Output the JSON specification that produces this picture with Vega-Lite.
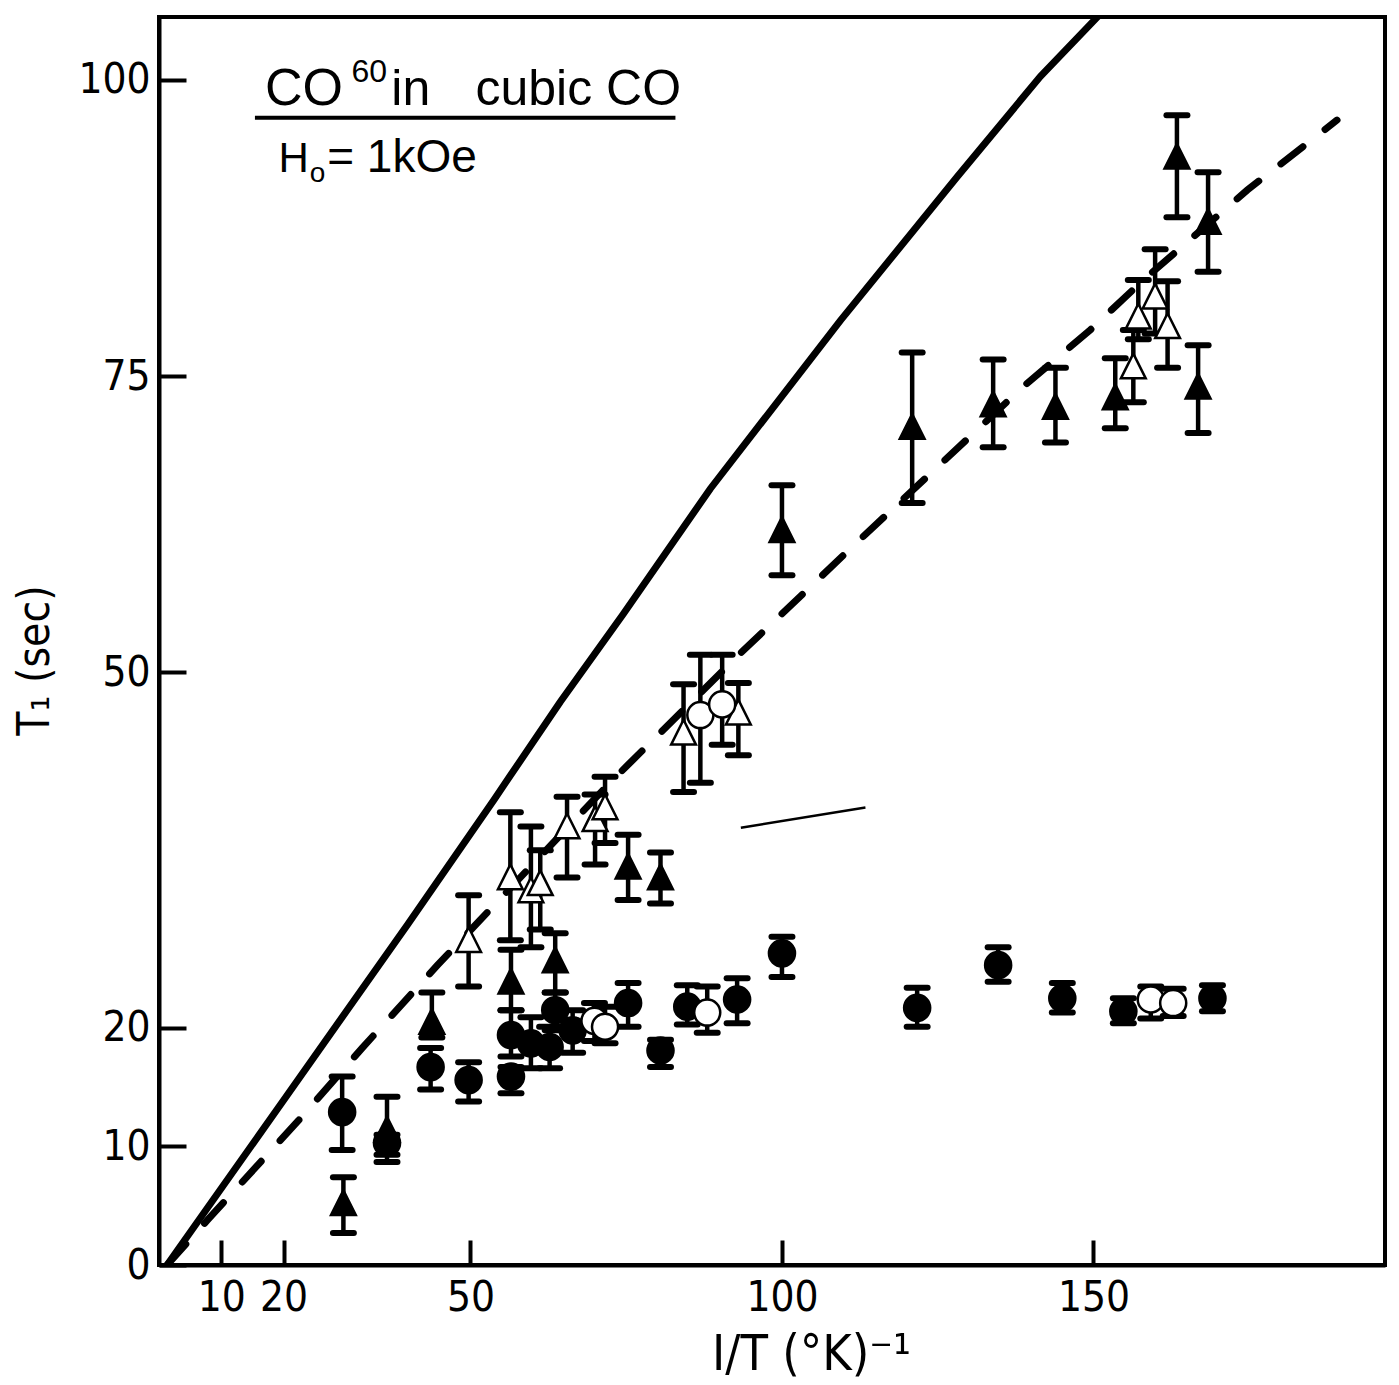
{
  "$schema": "https://vega.github.io/schema/vega-lite/v6.json",
  "width": 1226,
  "height": 1248,
  "autosize": {"type": "none"},
  "padding": {"left": 159, "top": 17, "right": 14, "bottom": 120},
  "background": "white",
  "config": {
    "view": {"stroke": "black", "strokeWidth": 4},
    "axis": {
      "grid": false,
      "domainColor": "black",
      "domainWidth": 4,
      "tickColor": "black",
      "tickWidth": 4,
      "labelColor": "black",
      "titleColor": "black",
      "labelFont": "DejaVu Sans Condensed, Roboto Condensed, Roboto, sans-serif",
      "titleFont": "DejaVu Sans Condensed, Roboto Condensed, Roboto, sans-serif",
      "labelFontSize": 42,
      "titleFontWeight": "normal"
    }
  },
  "datasets": {
    "points": [
      {"x": 29.6, "t1": 5.2, "lo": 2.7, "hi": 7.4, "kind": "filled triangle"},
      {"x": 36.6, "t1": 11.4, "lo": 8.7, "hi": 14.2, "kind": "filled triangle"},
      {"x": 43.8, "t1": 20.5, "lo": 19.2, "hi": 23.0, "kind": "filled triangle"},
      {"x": 56.5, "t1": 23.9, "lo": 21.5, "hi": 26.6, "kind": "filled triangle"},
      {"x": 63.6, "t1": 25.7, "lo": 23.0, "hi": 28.0, "kind": "filled triangle"},
      {"x": 75.3, "t1": 33.6, "lo": 30.8, "hi": 36.3, "kind": "filled triangle"},
      {"x": 80.5, "t1": 32.7, "lo": 30.5, "hi": 34.8, "kind": "filled triangle"},
      {"x": 100.0, "t1": 62.0, "lo": 58.2, "hi": 65.8, "kind": "filled triangle"},
      {"x": 120.9, "t1": 70.7, "lo": 64.3, "hi": 77.0, "kind": "filled triangle"},
      {"x": 133.9, "t1": 72.6, "lo": 69.0, "hi": 76.4, "kind": "filled triangle"},
      {"x": 143.9, "t1": 72.4, "lo": 69.4, "hi": 75.7, "kind": "filled triangle"},
      {"x": 153.5, "t1": 73.2, "lo": 70.6, "hi": 76.5, "kind": "filled triangle"},
      {"x": 166.8, "t1": 74.1, "lo": 70.2, "hi": 77.6, "kind": "filled triangle"},
      {"x": 163.4, "t1": 93.5, "lo": 88.4, "hi": 97.0, "kind": "filled triangle"},
      {"x": 168.4, "t1": 88.0, "lo": 83.8, "hi": 92.2, "kind": "filled triangle"},
      {"x": 49.7, "t1": 27.4, "lo": 23.5, "hi": 31.2, "kind": "open triangle"},
      {"x": 56.4, "t1": 32.7, "lo": 27.4, "hi": 38.2, "kind": "open triangle"},
      {"x": 59.7, "t1": 31.6, "lo": 26.8, "hi": 37.0, "kind": "open triangle"},
      {"x": 61.2, "t1": 32.2, "lo": 28.3, "hi": 35.0, "kind": "open triangle"},
      {"x": 65.5, "t1": 37.0, "lo": 32.7, "hi": 39.5, "kind": "open triangle"},
      {"x": 70.0, "t1": 37.6, "lo": 33.8, "hi": 39.7, "kind": "open triangle"},
      {"x": 71.6, "t1": 38.6, "lo": 35.6, "hi": 41.2, "kind": "open triangle"},
      {"x": 84.2, "t1": 44.9, "lo": 39.9, "hi": 49.0, "kind": "open triangle"},
      {"x": 93.0, "t1": 46.6, "lo": 43.0, "hi": 49.1, "kind": "open triangle"},
      {"x": 156.4, "t1": 75.8, "lo": 72.8, "hi": 78.9, "kind": "open triangle"},
      {"x": 157.2, "t1": 80.0, "lo": 78.1, "hi": 83.1, "kind": "open triangle"},
      {"x": 159.9, "t1": 81.7, "lo": 78.6, "hi": 85.7, "kind": "open triangle"},
      {"x": 161.9, "t1": 79.2, "lo": 75.7, "hi": 83.0, "kind": "open triangle"},
      {"x": 29.4, "t1": 12.9, "lo": 9.7, "hi": 15.9, "kind": "filled circle"},
      {"x": 36.6, "t1": 10.3, "lo": 9.3, "hi": 11.0, "kind": "filled circle"},
      {"x": 43.6, "t1": 16.7, "lo": 14.8, "hi": 18.3, "kind": "filled circle"},
      {"x": 49.7, "t1": 15.6, "lo": 13.8, "hi": 17.1, "kind": "filled circle"},
      {"x": 56.5, "t1": 15.9, "lo": 14.5, "hi": 16.7, "kind": "filled circle"},
      {"x": 56.5, "t1": 19.4, "lo": 17.6, "hi": 21.5, "kind": "filled circle"},
      {"x": 59.7, "t1": 18.7, "lo": 16.6, "hi": 20.9, "kind": "filled circle"},
      {"x": 62.7, "t1": 18.4, "lo": 16.6, "hi": 20.1, "kind": "filled circle"},
      {"x": 63.6, "t1": 21.5, "lo": 19.8, "hi": 23.0, "kind": "filled circle"},
      {"x": 66.4, "t1": 19.8, "lo": 17.9, "hi": 21.5, "kind": "filled circle"},
      {"x": 75.3, "t1": 22.1, "lo": 20.1, "hi": 23.8, "kind": "filled circle"},
      {"x": 80.5, "t1": 18.1, "lo": 16.7, "hi": 19.0, "kind": "filled circle"},
      {"x": 84.8, "t1": 21.8, "lo": 20.3, "hi": 23.6, "kind": "filled circle"},
      {"x": 92.8, "t1": 22.4, "lo": 20.4, "hi": 24.2, "kind": "filled circle"},
      {"x": 100.0, "t1": 26.3, "lo": 24.3, "hi": 27.7, "kind": "filled circle"},
      {"x": 121.7, "t1": 21.7, "lo": 20.1, "hi": 23.4, "kind": "filled circle"},
      {"x": 134.7, "t1": 25.3, "lo": 23.9, "hi": 26.8, "kind": "filled circle"},
      {"x": 145.0, "t1": 22.5, "lo": 21.3, "hi": 23.8, "kind": "filled circle"},
      {"x": 154.8, "t1": 21.4, "lo": 20.4, "hi": 22.5, "kind": "filled circle"},
      {"x": 169.1, "t1": 22.5, "lo": 21.4, "hi": 23.6, "kind": "filled circle"},
      {"x": 69.9, "t1": 20.6, "lo": 18.9, "hi": 22.1, "kind": "open circle"},
      {"x": 71.6, "t1": 20.1, "lo": 18.7, "hi": 21.8, "kind": "open circle"},
      {"x": 88.0, "t1": 21.3, "lo": 19.6, "hi": 23.5, "kind": "open circle"},
      {"x": 86.9, "t1": 46.4, "lo": 40.7, "hi": 51.5, "kind": "open circle"},
      {"x": 90.4, "t1": 47.3, "lo": 43.9, "hi": 51.5, "kind": "open circle"},
      {"x": 159.2, "t1": 22.4, "lo": 20.8, "hi": 23.5, "kind": "open circle"},
      {"x": 162.8, "t1": 22.1, "lo": 21.0, "hi": 23.3, "kind": "open circle"}
    ],
    "curves": [
      {"curve": "solid", "x": 1.3, "t1": 0},
      {"curve": "solid", "x": 20.0, "t1": 13.9},
      {"curve": "solid", "x": 40.0, "t1": 28.8},
      {"curve": "solid", "x": 53.7, "t1": 39.2},
      {"curve": "solid", "x": 64.4, "t1": 47.5},
      {"curve": "solid", "x": 74.5, "t1": 54.9},
      {"curve": "solid", "x": 88.5, "t1": 65.5},
      {"curve": "solid", "x": 109.4, "t1": 79.7},
      {"curve": "solid", "x": 128.1, "t1": 91.8},
      {"curve": "solid", "x": 141.5, "t1": 100.3},
      {"curve": "solid", "x": 151.0, "t1": 105.5},
      {"curve": "dashed", "x": 1.3, "t1": 0},
      {"curve": "dashed", "x": 7.8, "t1": 3.8},
      {"curve": "dashed", "x": 22.4, "t1": 12.2},
      {"curve": "dashed", "x": 32.6, "t1": 18.3},
      {"curve": "dashed", "x": 44.7, "t1": 25.3},
      {"curve": "dashed", "x": 72.4, "t1": 40.7},
      {"curve": "dashed", "x": 93.3, "t1": 51.6},
      {"curve": "dashed", "x": 112.1, "t1": 61.0},
      {"curve": "dashed", "x": 138.7, "t1": 74.1},
      {"curve": "dashed", "x": 149.5, "t1": 78.9},
      {"curve": "dashed", "x": 158.0, "t1": 83.1},
      {"curve": "dashed", "x": 174.7, "t1": 90.7},
      {"curve": "dashed", "x": 189.1, "t1": 96.6}
    ],
    "one": [{}]
  },
  "layer": [
    {
      "data": {"name": "curves"},
      "transform": [{"filter": "datum.curve === 'solid'"}],
      "mark": {"type": "line", "color": "black", "strokeWidth": 7, "clip": true},
      "encoding": {
        "x": {
          "field": "x", "type": "quantitative",
          "scale": {"domain": [0, 196.8], "nice": false, "zero": false},
          "axis": {
            "values": [10, 20, 50, 100, 150],
            "tickSize": -25,
            "labelPadding": 37,
            "title": "I/T (°K)⁻¹",
            "titleFontSize": 50,
            "titleX": 652,
            "titleY": 104,
            "titleAlign": "center",
            "titleBaseline": "alphabetic"
          }
        },
        "y": {
          "field": "t1", "type": "quantitative",
          "scale": {"domain": [0, 105.3], "nice": false, "zero": false},
          "axis": {
            "values": [0, 10, 20, 50, 75, 100],
            "tickSize": -27,
            "labelPadding": 36,
            "title": "T₁ (sec)",
            "titleFontSize": 44,
            "titleAngle": -90,
            "titleX": -124,
            "titleY": 643,
            "titleAlign": "center",
            "titleBaseline": "middle"
          }
        }
      }
    },
    {
      "data": {"name": "curves"},
      "transform": [{"filter": "datum.curve === 'dashed'"}],
      "mark": {"type": "line", "color": "black", "strokeWidth": 7, "strokeDash": [28, 28], "strokeCap": "round", "clip": true},
      "encoding": {
        "x": {"field": "x", "type": "quantitative"},
        "y": {"field": "t1", "type": "quantitative"}
      }
    },
    {
      "data": {"name": "points"},
      "mark": {"type": "rule", "color": "black", "strokeWidth": 4.5},
      "encoding": {
        "x": {"field": "x", "type": "quantitative"},
        "y": {"field": "lo", "type": "quantitative"},
        "y2": {"field": "hi"}
      }
    },
    {
      "data": {"name": "points"},
      "transform": [{"fold": ["lo", "hi"], "as": ["end", "val"]}],
      "mark": {"type": "point", "shape": "stroke", "size": 440, "stroke": "black", "strokeWidth": 6, "strokeCap": "round", "opacity": 1},
      "encoding": {
        "x": {"field": "x", "type": "quantitative"},
        "y": {"field": "val", "type": "quantitative"}
      }
    },
    {
      "data": {"name": "points"},
      "mark": {"type": "point", "filled": true, "stroke": "black", "strokeWidth": 2.5, "opacity": 1, "fillOpacity": 1},
      "encoding": {
        "x": {"field": "x", "type": "quantitative"},
        "y": {"field": "t1", "type": "quantitative"},
        "shape": {
          "field": "kind", "type": "nominal", "legend": null,
          "scale": {"domain": ["filled triangle", "open triangle", "filled circle", "open circle"],
                    "range": ["M0,-1L0.95,0.9L-0.95,0.9Z", "M0,-1L0.95,0.9L-0.95,0.9Z", "circle", "circle"]}
        },
        "fill": {
          "field": "kind", "type": "nominal", "legend": null,
          "scale": {"domain": ["filled triangle", "open triangle", "filled circle", "open circle"],
                    "range": ["black", "white", "black", "white"]}
        },
        "size": {
          "field": "kind", "type": "nominal", "legend": null,
          "scale": {"domain": ["filled triangle", "open triangle", "filled circle", "open circle"],
                    "range": [680, 680, 150, 230]}
        }
      }
    },
    {
      "data": {"name": "one"},
      "mark": {"type": "text", "align": "left", "baseline": "alphabetic", "font": "Liberation Sans", "fontSize": 52, "fill": "black", "text": "CO"},
      "encoding": {"x": {"datum": 17.0, "type": "quantitative"}, "y": {"datum": 97.9, "type": "quantitative"}}
    },
    {
      "data": {"name": "one"},
      "mark": {"type": "text", "align": "left", "baseline": "alphabetic", "font": "Liberation Sans", "fontSize": 32, "fill": "black", "text": "60"},
      "encoding": {"x": {"datum": 30.9, "type": "quantitative"}, "y": {"datum": 99.8, "type": "quantitative"}}
    },
    {
      "data": {"name": "one"},
      "mark": {"type": "text", "align": "left", "baseline": "alphabetic", "font": "Liberation Sans", "fontSize": 50, "fill": "black", "text": "in"},
      "encoding": {"x": {"datum": 37.3, "type": "quantitative"}, "y": {"datum": 97.9, "type": "quantitative"}}
    },
    {
      "data": {"name": "one"},
      "mark": {"type": "text", "align": "left", "baseline": "alphabetic", "font": "Liberation Sans", "fontSize": 50, "fill": "black", "text": "cubic CO"},
      "encoding": {"x": {"datum": 50.8, "type": "quantitative"}, "y": {"datum": 97.9, "type": "quantitative"}}
    },
    {
      "data": {"name": "one"},
      "mark": {"type": "rule", "color": "black", "strokeWidth": 4},
      "encoding": {"x": {"datum": 15.4, "type": "quantitative"}, "x2": {"datum": 82.9}, "y": {"datum": 96.8, "type": "quantitative"}}
    },
    {
      "data": {"name": "one"},
      "mark": {"type": "text", "align": "left", "baseline": "alphabetic", "font": "Liberation Sans", "fontSize": 42, "fill": "black", "text": "H"},
      "encoding": {"x": {"datum": 19.2, "type": "quantitative"}, "y": {"datum": 92.2, "type": "quantitative"}}
    },
    {
      "data": {"name": "one"},
      "mark": {"type": "text", "align": "left", "baseline": "alphabetic", "font": "Liberation Sans", "fontSize": 28, "fill": "black", "text": "o"},
      "encoding": {"x": {"datum": 24.2, "type": "quantitative"}, "y": {"datum": 91.4, "type": "quantitative"}}
    },
    {
      "data": {"name": "one"},
      "mark": {"type": "text", "align": "left", "baseline": "alphabetic", "font": "Liberation Sans", "fontSize": 46, "fill": "black", "text": "= 1kOe"},
      "encoding": {"x": {"datum": 27.0, "type": "quantitative"}, "y": {"datum": 92.2, "type": "quantitative"}}
    },
    {
      "data": {"name": "one"},
      "mark": {"type": "rule", "color": "black", "strokeWidth": 2.5},
      "encoding": {"x": {"datum": 93.4, "type": "quantitative"}, "x2": {"datum": 113.4}, "y": {"datum": 36.9, "type": "quantitative"}, "y2": {"datum": 38.6}}
    }
  ]
}
